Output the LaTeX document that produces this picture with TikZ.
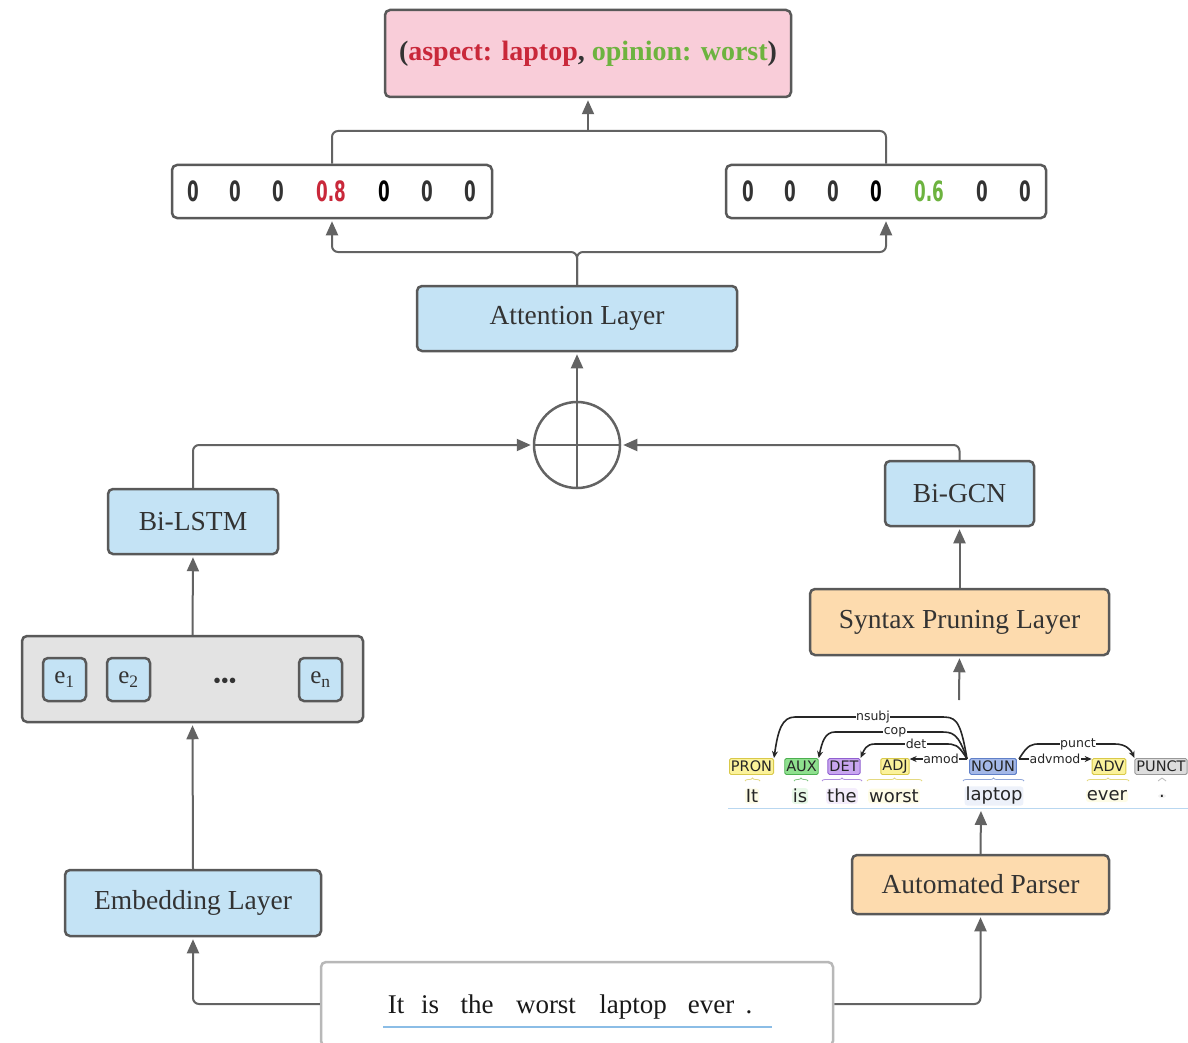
\documentclass[tikz,border=0pt]{standalone}
\usepackage{fontspec}
\setmainfont{Liberation Serif}
\newfontfamily\treefont{DejaVu Sans}
\newfontfamily\digitfont{DejaVu Sans}
\usetikzlibrary{arrows.meta,decorations.pathreplacing}
\definecolor{boxborder}{HTML}{595959}
\definecolor{linec}{HTML}{636363}
\definecolor{bluefill}{HTML}{C4E3F5}
\definecolor{orangefill}{HTML}{FDDBAE}
\definecolor{pinkfill}{HTML}{F9CDD9}
\definecolor{grayfill}{HTML}{E3E3E3}
\definecolor{txt}{HTML}{333333}
\definecolor{redt}{HTML}{C9283A}
\definecolor{greent}{HTML}{6DB33F}
\definecolor{ulblue}{HTML}{8BBDE6}
\definecolor{tyel}{HTML}{FBF29A}
\definecolor{tyelb}{HTML}{D9C94A}
\definecolor{tgrn}{HTML}{8EE08E}
\definecolor{tgrnb}{HTML}{4CAF50}
\definecolor{tpur}{HTML}{C9A6F0}
\definecolor{tpurb}{HTML}{9060D0}
\definecolor{tblu}{HTML}{A4B8E8}
\definecolor{tblub}{HTML}{6080C8}
\definecolor{tgry}{HTML}{DDDDDD}
\definecolor{tgryb}{HTML}{999999}
\tikzset{
  box/.style={draw=boxborder, line width=2.5pt, rounded corners=5pt, text=txt,
    font=\fontsize{27.5}{32}\selectfont, inner sep=0pt},
  bluebox/.style={box, fill=bluefill},
  orangebox/.style={box, fill=orangefill},
  conn/.style={draw=linec, line width=2pt},
  arr/.style={conn, -{Triangle[length=14pt,width=12pt]}, shorten >=2pt},
  dig/.style={font=\digitfont\bfseries\fontsize{28}{30}\selectfont, text=txt, inner sep=0pt},
  tag/.style={font=\treefont\fontsize{14.5}{16}\selectfont, inner xsep=1.5pt, inner ysep=0.5pt,
    minimum height=16pt, rounded corners=1.5pt, line width=0.9pt, text=black!85},
  word/.style={font=\treefont\fontsize{18}{20}\selectfont, inner sep=1pt, rounded corners=3pt, text=black!85},
  lab/.style={font=\treefont\fontsize{12.5}{13}\selectfont, fill=white, inner sep=0.6pt, text=black!85},
  dep/.style={draw=black!85, line width=1.6pt, -{Stealth[length=7pt,width=6pt]}},
  brc/.style={decorate, decoration={brace, amplitude=3pt}, line width=0.8pt},
  sword/.style={font=\fontsize{27}{30}\selectfont, anchor=base, inner sep=0pt, text=black!90}
}
\begin{document}
\begin{tikzpicture}[x=1pt,y=-1pt]
\useasboundingbox (0,0) rectangle (1188,1043);
\begin{scope}
\clip (0,0) rectangle (1188,1043);

% top output box
\node[box, fill=pinkfill, minimum width=406, minimum height=87, font=\bfseries\fontsize{28}{32}\selectfont]
  (out) at (588,53.5) {(\textcolor{redt}{aspect: laptop}, \textcolor{greent}{opinion: worst})};

% vectors
\node[box, fill=white, minimum width=320, minimum height=53] (lvec) at (332,191.5) {};
\node[box, fill=white, minimum width=320, minimum height=53] (rvec) at (886,191.5) {};
\node[dig] (l1) at (193,191) {\scalebox{0.6}[1]{0}};
\node[dig] (l2) at (235,191) {\scalebox{0.6}[1]{0}};
\node[dig] (l3) at (278,191) {\scalebox{0.6}[1]{0}};
\node[dig, text=redt] (l4) at (331,191) {\scalebox{0.6}[1]{0.8}};
\node[dig, text=black] (l5) at (384,191) {\scalebox{0.6}[1]{0}};
\node[dig] (l6) at (427,191) {\scalebox{0.6}[1]{0}};
\node[dig] (l7) at (470,191) {\scalebox{0.6}[1]{0}};
\node[dig] (r1) at (748,191) {\scalebox{0.6}[1]{0}};
\node[dig] (r2) at (790,191) {\scalebox{0.6}[1]{0}};
\node[dig] (r3) at (833,191) {\scalebox{0.6}[1]{0}};
\node[dig, text=black] (r4) at (876,191) {\scalebox{0.6}[1]{0}};
\node[dig, text=greent] (r5) at (929,191) {\scalebox{0.6}[1]{0.6}};
\node[dig] (r6) at (982,191) {\scalebox{0.6}[1]{0}};
\node[dig] (r7) at (1025,191) {\scalebox{0.6}[1]{0}};

% attention
\node[bluebox, minimum width=320, minimum height=65] (att) at (577,318.5) {Attention Layer};

% oplus
\node[draw=linec, line width=2.5pt, circle, minimum size=86pt, inner sep=0pt] (oplus) at (577,445) {};
\draw[draw=linec, line width=2.5pt] (oplus.north) -- (oplus.south);
\draw[draw=linec, line width=2.5pt] (oplus.west) -- (oplus.east);

% left branch
\node[bluebox, minimum width=170, minimum height=65] (lstm) at (193,521.5) {Bi-LSTM};
\node[box, fill=grayfill, minimum width=341, minimum height=86] (grp) at (192.5,679) {};
\node[bluebox, minimum width=43, minimum height=43, font=\fontsize{25}{28}\selectfont] (e1) at (64.5,679.5) {e\textsubscript{1}};
\node[bluebox, minimum width=43, minimum height=43, font=\fontsize{25}{28}\selectfont] (e2) at (128.5,679.5) {e\textsubscript{2}};
\node[bluebox, minimum width=43, minimum height=43, font=\fontsize{25}{28}\selectfont] (en) at (320.5,679.5) {e\textsubscript{n}};
\node[inner sep=0pt, text=txt, font=\fontsize{23}{24}\selectfont] (dots) at (225,683) {\textbullet\kern-0.3pt\textbullet\kern-0.3pt\textbullet};
\node[bluebox, minimum width=256, minimum height=66] (emb) at (193,903) {Embedding Layer};

% right branch
\node[bluebox, minimum width=149, minimum height=65] (gcn) at (959.5,493.5) {Bi-GCN};
\node[orangebox, minimum width=299, minimum height=66] (prune) at (959.5,622) {Syntax Pruning Layer};
\node[orangebox, minimum width=257, minimum height=59] (parser) at (980.5,884.5) {Automated Parser};

% sentence
\node[draw=black!28, line width=2.5pt, rounded corners=5pt, fill=white, minimum width=512, minimum height=84] (sent) at (577,1004) {};
\node[sword] (w1) at (396,1013) {It};
\node[sword] (w2) at (430,1013) {is};
\node[sword] (w3) at (477,1013) {the};
\node[sword] (w4) at (546,1013) {worst};
\node[sword] (w5) at (633,1013) {laptop};
\node[sword] (w6) at (711,1013) {ever};
\node[sword] (w7) at (749,1013) {.};
\coordinate (ul1) at (383,1027);
\coordinate (ul2) at (772,1027);
\draw[draw=ulblue, line width=2pt] (ul1) -- (ul2);

% dependency parse
\coordinate (tb1) at (728,808);
\coordinate (tb2) at (1188,808);
\draw[draw=ulblue!60, line width=1pt] (tb1) -- (tb2);
\node[word, fill=tyel!25] (t1) at (752,796) {It};
\node[word, fill=tgrn!20] (t2) at (800,796) {is};
\node[word, fill=tpur!20] (t3) at (842,796) {the};
\node[word, fill=tyel!25] (t4) at (894,796) {worst};
\node[word, fill=tblu!20] (t5) at (994,796) {laptop};
\node[word, fill=tyel!25] (t6) at (1107,796) {ever};
\node[word, fill=tgry!40] (t7) at (1162,796) {.};

\node[tag, fill=tyel, draw=tyelb] (pron) at (751.5,766.5) {PRON};
\node[tag, fill=tgrn, draw=tgrnb] (aux) at (801.5,766.5) {AUX};
\node[tag, fill=tpur, draw=tpurb] (det) at (844,766.5) {DET};
\node[tag, fill=tyel, draw=tyelb] (adj) at (895,766.5) {ADJ};
\node[tag, fill=tblu, draw=tblub] (noun) at (993,766.5) {NOUN};
\node[tag, fill=tyel, draw=tyelb] (adv) at (1109,766.5) {ADV};
\node[tag, fill=tgry, draw=tgryb] (punct) at (1161,766.5) {PUNCT};

\coordinate (b1a) at (745,781); \coordinate (b1b) at (760,781);
\coordinate (b2a) at (794,781); \coordinate (b2b) at (808,781);
\coordinate (b3a) at (822,781); \coordinate (b3b) at (862,781);
\coordinate (b4a) at (867,781); \coordinate (b4b) at (922,781);
\coordinate (b5a) at (963,781); \coordinate (b5b) at (1024,781);
\coordinate (b6a) at (1087,781); \coordinate (b6b) at (1129,781);
\coordinate (b7a) at (1158,781); \coordinate (b7b) at (1166,781);
\draw[brc, draw=tyelb!70] (b1a) -- (b1b);
\draw[brc, draw=tgrnb!70] (b2a) -- (b2b);
\draw[brc, draw=tpurb!70] (b3a) -- (b3b);
\draw[brc, draw=tyelb!70] (b4a) -- (b4b);
\draw[brc, draw=tblub!70] (b5a) -- (b5b);
\draw[brc, draw=tyelb!70] (b6a) -- (b6b);
\draw[brc, draw=tgryb!70] (b7a) -- (b7b);

\coordinate (nl) at (967,759);
\coordinate (nr) at (1019,759);
\draw[dep] (nl) .. controls (960,717) and (955,717) .. (940,717) -- (795,717) .. controls (782,717) and (778,730) .. (pron.north east);
\draw[dep] (nl) .. controls (958,732) and (952,732) .. (940,732) -- (835,732) .. controls (825,732) and (822,742) .. (aux.north east);
\draw[dep] (nl) .. controls (958,744) and (955,744) .. (945,744) -- (875,744) .. controls (866,744) and (864,750) .. (det.north east);
\draw[dep] (nl) -- (adj.east |- nl);
\draw[dep] (nr) .. controls (1028,744) and (1032,744) .. (1040,744) -- (1115,744) .. controls (1126,744) and (1131,750) .. (punct.north west);
\draw[dep] (nr) -- (adv.west |- nr);
\node[lab] (lnsubj) at (873,717) {nsubj};
\node[lab] (lcop) at (895,732) {cop};
\node[lab] (ldet) at (916,744) {det};
\node[lab] (lamod) at (941,759) {amod};
\node[lab] (lpunct) at (1078,744) {punct};
\node[lab] (ladvmod) at (1055,759) {advmod};

% connectors
\coordinate (mj) at (588,131);
\draw[conn, rounded corners=6pt] (lvec.north) |- (mj);
\draw[conn, rounded corners=6pt] (rvec.north) |- (mj);
\draw[arr] (mj) -- (out.south -| mj);
\coordinate (sj) at (577,252);
\draw[arr, rounded corners=6pt] (att.north) -- (sj) -| (lvec.south);
\draw[arr, rounded corners=6pt] (att.north) -- (sj) -| (rvec.south);
\draw[arr] (oplus.north) -- (att.south);
\draw[arr, rounded corners=6pt] (lstm.north) |- (oplus.west);
\draw[arr, rounded corners=6pt] (gcn.north) |- (oplus.east);
\draw[arr] (grp.north) -- (lstm.south);
\draw[arr] (emb.north) -- (grp.south);
\draw[arr, rounded corners=6pt] (sent.west) -| (emb.south);
\draw[arr, rounded corners=6pt] (sent.east) -| (parser.south);
\coordinate (treebot) at (981,809);
\draw[arr] (parser.north) -- (treebot);
\coordinate (treetop) at (959,700);
\draw[arr] (treetop) -- (prune.south);
\draw[arr] (prune.north) -- (gcn.south);
\end{scope}
\end{tikzpicture}
\end{document}
